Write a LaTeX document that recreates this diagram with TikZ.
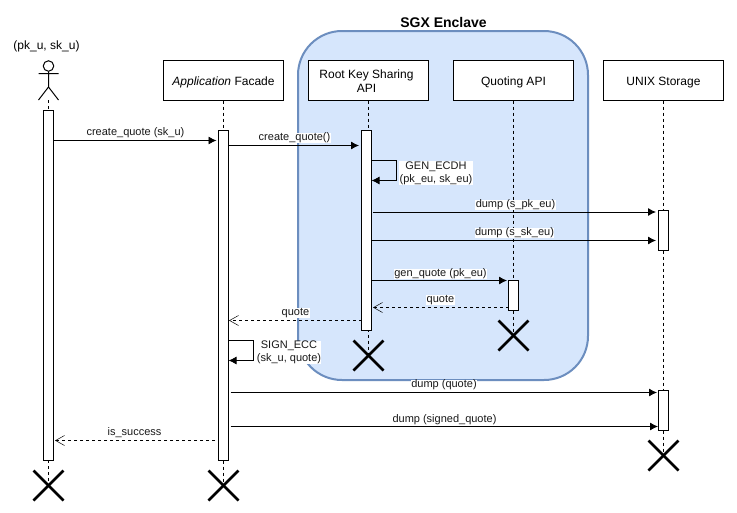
\documentclass[tikz,border=0pt]{standalone}
\usepackage{fontspec}
\setmainfont{Liberation Sans}
\usetikzlibrary{arrows.meta}
\newcommand{\boxline}[1]{\raisebox{-3pt}[8pt][4pt]{#1}}
\tikzset{
  box/.style={draw=black,fill=white,line width=1pt,minimum width=120pt,minimum height=40pt,inner sep=0pt,outer sep=0pt,align=center,font=\fontsize{12}{14}\selectfont},
  act/.style={draw=black,fill=white,line width=1pt,minimum width=10pt,inner sep=0pt,outer sep=0pt},
  life/.style={draw=black,line width=0.9pt,dash pattern=on 3pt off 3pt},
  msg/.style={draw=black,line width=0.9pt,-{Latex[length=8pt,width=8pt]}},
  ret/.style={draw=black,line width=0.9pt,dash pattern=on 3pt off 3pt,-{Straight Barb[length=9pt,width=10pt,line width=0.5pt]}},
  lbl/.style={inner sep=0.3pt,outer sep=0pt,align=center,font=\fontsize{11}{13.4}\selectfont,text=black!90},
  wlbl/.style={lbl,fill=white},
  cross/.style={draw=black,line width=2.6pt}
}
\begin{document}
\begin{tikzpicture}[x=1pt,y=1pt]
\useasboundingbox (0,0) rectangle (737,-512);
\fill[white] (0,0) rectangle (737,-512);
% enclave
\node[inner sep=0pt] (title) at (443.5,-22.5) {\fontsize{14}{16}\selectfont\bfseries SGX Enclave};
\node[draw={rgb,255:red,108;green,142;blue,191},fill={rgb,255:red,214;green,230;blue,252},line width=2pt,rounded corners=44pt,minimum width=290pt,minimum height=349pt,inner sep=0pt,outer sep=0pt] (enclave) at (443,-205.5) {};
% participants
\node[font=\fontsize{12}{14}\selectfont,inner sep=0pt] (userlabel) at (46.5,-46.5) {(pk\_u, sk\_u)};
\node[draw=black,line width=1pt,circle,minimum size=10.5pt,inner sep=0pt,outer sep=0pt] (head) at (48.5,-66) {};
\coordinate (hip) at (48.5,-87);
\coordinate (feet) at (48.5,-100);
\coordinate (armL) at (38.5,-73.5);
\coordinate (armR) at (58.5,-73.5);
\coordinate (footL) at (38.5,-100);
\coordinate (footR) at (58.5,-100);
\draw[line width=1pt] (head.south) -- (hip) (armL) -- (armR) (footL) -- (hip) -- (footR);
\node[box] (app) at (223.5,-80.5) {\boxline{\itshape Application\upshape{} Facade}};
\node[box] (root) at (368.5,-80.5) {\rule{0pt}{9.6pt}Root Key Sharing\kern4pt\\API\kern4pt};
\node[box] (quoting) at (513.5,-80.5) {\boxline{Quoting API}};
\node[box] (unix) at (663.5,-80.5) {\boxline{UNIX Storage}};
% terminators
\coordinate (xU) at (48.5,-485.5);
\coordinate (xA) at (223.5,-485.5);
\coordinate (xR) at (368.5,-355.5);
\coordinate (xQ) at (513.5,-335.5);
\coordinate (xS) at (663.5,-455.5);
% lifelines
\draw[life] (feet) -- (xU);
\draw[life] (app.south) -- (xA);
\draw[life] (root.south) -- (xR);
\draw[life] (quoting.south) -- (xQ);
\draw[life] (unix.south) -- (xS);
% crosses
\foreach \c in {xU,xA,xR,xQ,xS}{
  \draw[cross] ([shift={(-15,15)}]\c) -- ([shift={(15,-15)}]\c);
  \draw[cross] ([shift={(-15,-15)}]\c) -- ([shift={(15,15)}]\c);
}
% activations
\node[act,minimum height=350pt] (aU) at (48.5,-285.5) {};
\node[act,minimum height=330pt] (aA) at (223.5,-295.5) {};
\node[act,minimum height=200pt] (aR) at (366.5,-230.5) {};
\node[act,minimum height=30pt] (aQ) at (513.5,-295.5) {};
\node[act,minimum height=40pt] (aS1) at (663.5,-230.5) {};
\node[act,minimum height=40pt] (aS2) at (663.5,-410.5) {};
% messages
\draw[msg,shorten >=2pt] (aU.east |- 0,-140.5) -- (aA.west |- 0,-140.5);
\draw[msg,shorten >=2.5pt] (aA.east |- 0,-145.5) -- (aR.west |- 0,-145.5);
\draw[msg] (aR.east |- 0,-160.5) -- (396.5,-160.5) -- (396.5,-180.5) -- (aR.east |- 0,-180.5);
\draw[msg,shorten <=1pt,shorten >=2.5pt] (aR.east |- 0,-212) -- (aS1.west |- 0,-212);
\draw[msg,shorten >=2.5pt] (aR.east |- 0,-240.5) -- (aS1.west |- 0,-240.5);
\draw[msg,shorten >=1.5pt] (aR.east |- 0,-280.5) -- (aQ.west |- 0,-280.5);
\draw[ret,shorten >=1.5pt] (aQ.west |- 0,-307.5) -- (aR.east |- 0,-307.5);
\draw[ret,shorten >=0.5pt] (aR.west |- 0,-320.5) -- (aA.east |- 0,-320.5);
\draw[msg] (aA.east |- 0,-340.5) -- (253.5,-340.5) -- (253.5,-360.5) -- (aA.east |- 0,-360.5);
\draw[msg,shorten <=2pt,shorten >=1.5pt] (aA.east |- 0,-392.5) -- (aS2.west |- 0,-392.5);
\draw[msg,shorten <=2pt,shorten >=0.5pt] (aA.east |- 0,-426.5) -- (aS2.west |- 0,-426.5);
\draw[ret,shorten <=3.5pt,shorten >=1.5pt] (aA.west |- 0,-440.5) -- (aU.east |- 0,-440.5);
% labels
\node[lbl] (l1) at (135.5,-133) {create\_quote (sk\_u)};
\node[wlbl] (l2) at (294.5,-138) {create\_quote()};
\node[wlbl] (l3) at (436,-173) {GEN\_ECDH\\(pk\_eu, sk\_eu)};
\node[wlbl] (l4) at (515.5,-205) {dump (s\_pk\_eu)};
\node[wlbl] (l5) at (514.5,-233) {dump (s\_sk\_eu)};
\node[wlbl] (l6) at (440.5,-274) {gen\_quote (pk\_eu)};
\node[wlbl] (l7) at (440.5,-300) {quote};
\node[wlbl] (l8) at (295.5,-313) {quote};
\node[wlbl] (l9) at (289,-352.5) {SIGN\_ECC\\(sk\_u, quote)};
\node[wlbl] (l10) at (444,-385) {dump (quote)};
\node[lbl] (l11) at (444.5,-419.5) {dump (signed\_quote)};
\node[lbl] (l12) at (134.5,-433) {is\_success};
\end{tikzpicture}
\end{document}
